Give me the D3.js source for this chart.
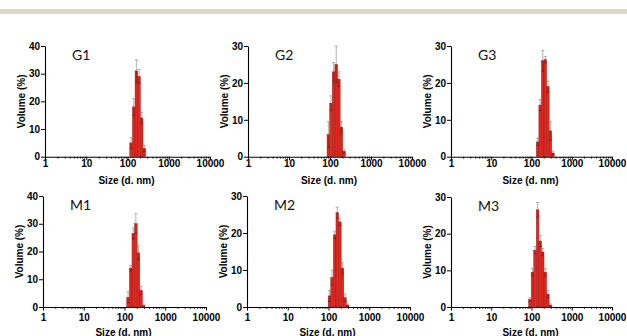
<!DOCTYPE html>
<html>
<head>
<meta charset="utf-8">
<script src="https://cdn.jsdelivr.net/npm/d3@7"></script>
<style>
  body { margin: 0; background: #fff; }
  svg { display: block; }
</style>
</head>
<body>
<svg id="fig" width="627" height="336"></svg>
<script>
// DLS volume distributions, six samples (size bins in nm, volume %, SD)
const panelNames = ["G1", "G2", "G3", "M1", "M2", "M3"];
const yMaxima = [40, 30, 30, 40, 30, 30];
const xMajorTicks = [1, 10, 100, 1000, 10000];

const sizesG1 = [122.4, 141.8, 164.2, 190.1, 220.2, 255];
const volumeG1 = [5, 18, 31, 29, 14, 3];
const errorG1 = [2, 3, 4, 2.5, 2, 1];

const sizesG2 = [91.28, 105.7, 122.4, 141.8, 164.2, 190.1, 220.2];
const volumeG2 = [6, 14.5, 23, 25, 21, 8, 1.5];
const errorG2 = [3.5, 2, 2.5, 5, 2, 1.5, 0.5];

const sizesG3 = [141.8, 164.2, 190.1, 220.2, 255, 295.3, 342];
const volumeG3 = [4, 14, 26, 26.3, 19, 7, 1];
const errorG3 = [1, 1.5, 2.8, 0.8, 1.5, 2.5, 0.5];

const sizesM1 = [122.4, 141.8, 164.2, 190.1, 220.2, 255, 295.3];
const volumeM1 = [3.5, 14, 26.5, 30, 19.5, 6, 0.5];
const errorM1 = [2, 1, 2, 3.6, 2.5, 1.5, 0.5];

const sizesM2 = [105.7, 122.4, 141.8, 164.2, 190.1, 220.2, 255, 295.3];
const volumeM2 = [3, 8, 19.5, 25.5, 23, 10.5, 2.5, 0.5];
const errorM2 = [1.5, 2, 1, 1.5, 1, 1.5, 1, 0.3];

const sizesM3 = [91.28, 105.7, 122.4, 141.8, 164.2, 190.1, 220.2, 255, 295.3];
const volumeM3 = [2, 9.5, 15.5, 26.5, 18, 15, 9.5, 3.5, 0.5];
const errorM3 = [0.5, 1, 1, 2, 1.5, 1, 1, 1, 0.3];

const panelSizes = [sizesG1, sizesG2, sizesG3, sizesM1, sizesM2, sizesM3];
const panelVolumes = [volumeG1, volumeG2, volumeG3, volumeM1, volumeM2, volumeM3];
const panelErrors = [errorG1, errorG2, errorG3, errorM1, errorM2, errorM3];

// 70 log-spaced bins from 0.4 nm to 10 µm -> ratio between neighbouring bins
const binRatio = Math.pow(10000 / 0.4, 1 / 69);

// plot frames
const frames = [
  { left: 45,  right: 210, top: 46,  bottom: 156.7, tickY: 166.5, titleY: 183.5 },
  { left: 248, right: 412, top: 46,  bottom: 156.7, tickY: 166.5, titleY: 183.5 },
  { left: 451, right: 612, top: 46,  bottom: 156.7, tickY: 166.5, titleY: 183.5 },
  { left: 43,  right: 206, top: 196, bottom: 307,   tickY: 320.5, titleY: 335.5 },
  { left: 247, right: 410, top: 196, bottom: 307,   tickY: 320.5, titleY: 335.5 },
  { left: 451, right: 612, top: 197, bottom: 307,   tickY: 320.5, titleY: 335.5 }
];

const svg = d3.select("#fig");
svg.append("rect").attr("width", 627).attr("height", 336).attr("fill", "#fff");
// header rule
svg.append("rect").attr("x", 0).attr("y", 9).attr("width", 627).attr("height", 5).attr("fill", "#ddd8c8");

const numFont = "'Liberation Sans', Arial, sans-serif";

panelNames.forEach((name, i) => {
  const f = frames[i];
  const sizes = panelSizes[i], vols = panelVolumes[i], errs = panelErrors[i];
  const x = d3.scaleLog().domain([1, 10000]).range([f.left, f.right]);
  const y = d3.scaleLinear().domain([0, yMaxima[i]]).range([f.bottom, f.top]);
  const g = svg.append("g");

  // bars
  const half = Math.sqrt(binRatio);
  g.selectAll("rect.bar").data(sizes).join("rect")
    .attr("class", "bar")
    .attr("x", d => x(d / half))
    .attr("width", d => x(d * half) - x(d / half))
    .attr("y", (d, j) => y(vols[j]))
    .attr("height", (d, j) => y(0) - y(vols[j]))
    .attr("fill", "#e4281f")
    .attr("stroke", "#8a1712")
    .attr("stroke-width", 0.45);

  // error bars: grey whisker above the bar, dark whisker inside it
  const eb = g.selectAll("g.err").data(sizes).join("g").attr("class", "err");
  eb.append("line")
    .attr("x1", d => x(d)).attr("x2", d => x(d))
    .attr("y1", (d, j) => y(vols[j]))
    .attr("y2", (d, j) => y(vols[j] + errs[j]))
    .attr("stroke", "#8c8c8c").attr("stroke-width", 0.7);
  eb.append("line")
    .attr("x1", d => x(d) - 1.6).attr("x2", d => x(d) + 1.6)
    .attr("y1", (d, j) => y(vols[j] + errs[j]))
    .attr("y2", (d, j) => y(vols[j] + errs[j]))
    .attr("stroke", "#8c8c8c").attr("stroke-width", 0.7);
  eb.append("line")
    .attr("x1", d => x(d)).attr("x2", d => x(d))
    .attr("y1", (d, j) => y(Math.max(0, vols[j] - errs[j])))
    .attr("y2", (d, j) => y(vols[j]))
    .attr("stroke", "#7a1510").attr("stroke-width", 0.5);
  eb.append("line")
    .attr("x1", d => x(d) - 1.3).attr("x2", d => x(d) + 1.3)
    .attr("y1", (d, j) => y(Math.max(0, vols[j] - errs[j])))
    .attr("y2", (d, j) => y(Math.max(0, vols[j] - errs[j])))
    .attr("stroke", "#5a1010").attr("stroke-width", 0.6);

  // x axis with decade labels and minor ticks
  const allTicks = [];
  for (let dec = 1; dec < 10000; dec *= 10) {
    for (let m = 1; m < 10; m++) allTicks.push(dec * m);
  }
  allTicks.push(10000);
  const xAxis = d3.axisBottom(x).tickValues(allTicks).tickSizeOuter(0)
    .tickFormat(d => xMajorTicks.includes(d) ? String(d) : "");
  const xa = g.append("g").attr("transform", `translate(0,${f.bottom})`).call(xAxis);
  xa.select(".domain").attr("stroke", "#000").attr("stroke-width", 1.1);
  xa.selectAll(".tick line")
    .attr("stroke", "#000")
    .attr("stroke-width", d => xMajorTicks.includes(d) ? 1 : 0.8)
    .attr("y2", d => xMajorTicks.includes(d) ? 3.5 : 2);
  xa.selectAll(".tick text")
    .attr("y", null).attr("dy", null)
    .attr("transform", `translate(0,${f.tickY - f.bottom})`)
    .attr("font-family", numFont).attr("font-weight", "bold")
    .attr("font-size", "10px").attr("fill", "#000");

  // y axis
  const yAxis = d3.axisLeft(y).tickValues(d3.range(0, yMaxima[i] + 1, 10))
    .tickSize(4).tickSizeOuter(0).tickPadding(1).tickFormat(d3.format("d"));
  const ya = g.append("g").attr("transform", `translate(${f.left},0)`).call(yAxis);
  ya.select(".domain").attr("stroke", "#000").attr("stroke-width", 1.1);
  ya.selectAll(".tick line").attr("stroke", "#000").attr("stroke-width", 1);
  ya.selectAll(".tick text")
    .attr("font-family", numFont).attr("font-weight", "bold")
    .attr("font-size", "10px").attr("fill", "#000");

  // axis titles
  g.append("text")
    .attr("x", (f.left + f.right) / 2 - 1).attr("y", f.titleY)
    .attr("text-anchor", "middle")
    .attr("font-family", numFont).attr("font-weight", "bold")
    .attr("font-size", "10px").text("Size (d. nm)");
  g.append("text")
    .attr("transform", `translate(${f.left - 24},${(f.top + f.bottom) / 2}) rotate(-90)`)
    .attr("text-anchor", "middle").attr("dy", "0.35em")
    .attr("font-family", numFont).attr("font-weight", "bold")
    .attr("font-size", "10px").text("Volume (%)");

  // sample label
  g.append("text")
    .attr("x", f.left + 27).attr("y", f.top + 14)
    .attr("font-family", "Lato, 'Open Sans', sans-serif")
    .attr("font-size", "14px").attr("fill", "#111").text(name);
});
</script>
</body>
</html>
